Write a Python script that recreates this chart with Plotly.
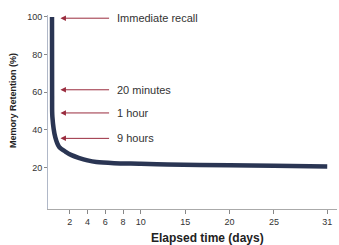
import plotly.graph_objects as go

# Data
days = [0, 0.014, 0.042, 0.375, 0.8, 1.5, 2.2, 3, 4, 5, 7, 10, 13, 20, 25, 31]
retention = [100, 58, 47, 36, 31, 28.5, 26.6, 25.2, 23.8, 22.9, 22.3, 22.0, 21.6, 21.2, 20.9, 20.5]

xtick_vals = [2, 4, 6, 8, 10, 15, 20, 25, 31]
ytick_vals = [20, 40, 60, 80, 100]

labels = ["Immediate recall", "20 minutes", "1 hour", "9 hours"]
label_levels = [99.3, 61.3, 49, 35.5]

fig = go.Figure()
fig.add_trace(go.Scatter(
    x=days, y=retention, mode="lines",
    line=dict(color="#2a3553", width=4.5, shape="spline", smoothing=0.8),
    hoverinfo="skip", showlegend=False,
))

font_fam = "Liberation Sans Narrow, Liberation Sans, Arial, sans-serif"
annotations = []
for lab, lvl in zip(labels, label_levels):
    annotations.append(dict(
        x=0.95, y=lvl, xref="x", yref="y",
        ax=6.6, ay=lvl, axref="x", ayref="y",
        text="", showarrow=True, arrowhead=2, arrowsize=1.1,
        arrowwidth=1, arrowcolor="#9a2c3e", standoff=0, startstandoff=0,
    ))
    annotations.append(dict(
        x=7.1, y=lvl, xref="x", yref="y", xanchor="left", yanchor="middle",
        text=lab, showarrow=False,
        font=dict(family=font_fam, size=11, color="#333333"),
    ))

annotations.append(dict(
    x=0.553, y=-0.105, xref="paper", yref="paper", xanchor="center", yanchor="top",
    text="<b>Elapsed time (days)</b>", showarrow=False,
    font=dict(family=font_fam, size=12, color="#222222"),
))
annotations.append(dict(
    x=-0.121, y=0.557, xref="paper", yref="paper", xanchor="center", yanchor="middle",
    text="<b>Memory Retention (%)</b>", showarrow=False, textangle=-90,
    font=dict(family=font_fam, size=9, color="#222222"),
))

fig.update_layout(
    width=339, height=245,
    margin=dict(l=48, r=2, t=15, b=36),
    paper_bgcolor="white", plot_bgcolor="white",
    annotations=annotations,
    xaxis=dict(
        range=[-0.45, 32.1], tickvals=xtick_vals, ticks="outside", ticklen=4,
        tickcolor="#888888", showgrid=False, zeroline=False, automargin=False,
        showline=True, linecolor="#aaaaaa", linewidth=1,
        tickfont=dict(family=font_fam, size=9, color="#333333"),
    ),
    yaxis=dict(
        range=[-2, 101], tickvals=ytick_vals, ticks="outside", ticklen=3,
        tickcolor="#888888", showgrid=False, zeroline=False, automargin=False,
        showline=True, linecolor="#b0b8c8", linewidth=1,
        tickfont=dict(family=font_fam, size=9, color="#333333"),
    ),
)

fig.write_html(
    "out.html",
    config={"displayModeBar": False},
    post_script="document.body.style.margin='0';document.body.style.overflow='hidden';",
)
